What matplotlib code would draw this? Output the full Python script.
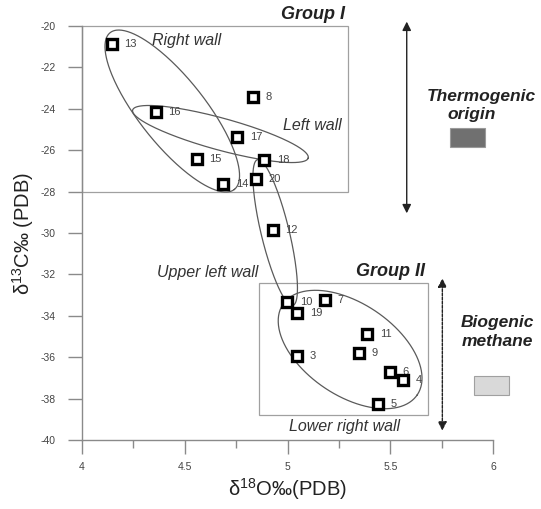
import numpy as np
import matplotlib
matplotlib.use('Agg')
import matplotlib.pyplot as plt
from matplotlib.patches import Rectangle

plt.rcParams['font.family'] = ['Liberation Sans', 'DejaVu Sans']
plt.rcParams['mathtext.default'] = 'regular'
plt.rcParams['axes.unicode_minus'] = False

# sample points
ids = ['13', '16', '8', '17', '15', '18', '14', '20', '12',
       '10', '19', '7', '11', '9', '3', '6', '4', '5']
d18O = [4.146, 4.360, 4.831, 4.756, 4.559, 4.887, 4.688, 4.845, 4.928,
        4.999, 5.048, 5.182, 5.388, 5.349, 5.048, 5.498, 5.560, 5.438]
d13C = [-20.87, -24.17, -23.44, -25.36, -26.43, -26.47, -27.65, -27.41, -29.86,
        -33.32, -33.85, -33.24, -34.88, -35.78, -35.94, -36.70, -37.10, -38.28]

# group boxes (x0, x1, y0, y1)
group1_box = (4.0, 5.294, -28.04, -20.0)
group2_box = (4.862, 5.681, -38.79, -32.40)

# wall ellipses: name, centre (d18O, d13C), semi axes in px, angle in deg
walls = [
    ('Right wall', (4.440, -24.11), 100, 33, -51.6),
    ('Left wall', (4.674, -25.22), 91, 16, -15.3),
    ('Upper left wall', (4.940, -29.98), 75, 14, -76.4),
    ('Lower right wall', (5.304, -35.63), 81, 46, -34.0),
]
wall_text = {
    'Right wall': (4.508, -20.71),
    'Left wall': (5.121, -24.83),
    'Upper left wall': (4.611, -31.90),
    'Lower right wall': (5.275, -39.37),
}

fig = plt.figure(figsize=(5.41, 5.09), dpi=100)
ax = fig.add_axes([0.151, 0.1356, 0.761, 0.8134])
ax.set_xlim(4, 6)
ax.set_ylim(-40, -20)

for s in ['top', 'right']:
    ax.spines[s].set_visible(False)
for s in ['left', 'bottom']:
    ax.spines[s].set_color('#8a8a8a')
    ax.spines[s].set_linewidth(1.0)

ax.set_xticks([4, 4.5, 5, 5.5, 6])
ax.set_xticklabels(['4', '4.5', '5', '5.5', '6'])
ax.set_xticks([4.25, 4.75, 5.25, 5.75], minor=True)
ax.set_yticks(np.arange(-40, -19, 2))
ax.tick_params(axis='both', which='major', direction='out', color='#8a8a8a',
               labelsize=7.5, labelcolor='#444444', width=1.0)
ax.tick_params(axis='y', which='major', length=10, pad=9)
ax.tick_params(axis='x', which='major', length=10, pad=6)
ax.tick_params(axis='x', which='minor', direction='out', length=5.5,
               color='#8a8a8a', width=1.0)

ax.set_xlabel(r'$\delta^{18}$O‰(PDB)', fontsize=14.5, color='#222222', labelpad=3)
ax.set_ylabel(r'$\delta^{13}$C‰ (PDB)', fontsize=14.5, color='#222222', labelpad=3)

# group boxes
for x0, x1, y0, y1 in [group1_box, group2_box]:
    ax.add_patch(Rectangle((x0, y0), x1 - x0, y1 - y0, fill=False,
                           ec='#a0a0a0', lw=0.9, clip_on=False, zorder=1))
ax.annotate('Group I', xy=(group1_box[1], group1_box[3]), xytext=(-2, 2),
            textcoords='offset points', ha='right', va='bottom',
            fontsize=13, fontweight='bold', style='italic', color='#222222',
            annotation_clip=False)
ax.annotate('Group II', xy=(group2_box[1], group2_box[3]), xytext=(-2, 2),
            textcoords='offset points', ha='right', va='bottom',
            fontsize=13, fontweight='bold', style='italic', color='#222222',
            annotation_clip=False)

# ellipses drawn in pixel space, mapped back to data
bb = ax.get_window_extent()
sx = bb.width / 2.0
sy = bb.height / 20.0
t = np.linspace(0, 2 * np.pi, 300)
for name, (cx, cy), a, b, ang in walls:
    th = np.deg2rad(ang)
    u = a * np.cos(t)
    v = b * np.sin(t)
    ex = cx + (u * np.cos(th) - v * np.sin(th)) / sx
    ey = cy + (u * np.sin(th) + v * np.cos(th)) / sy
    ax.plot(ex, ey, color='#5a5a5a', lw=0.9, zorder=2, clip_on=False)
    tx, ty = wall_text[name]
    ax.text(tx, ty, name, fontsize=11.5, style='italic', color='#333333',
            ha='center', va='center', zorder=3)

# points and labels
for lab, x, y in zip(ids, d18O, d13C):
    ax.annotate(lab, xy=(x, y), xytext=(9, 0), textcoords='offset points',
                ha='left', va='center', fontsize=8, color='#444444', zorder=3)
ax.plot(d18O, d13C, 's', ms=7.8, mfc='white', mec='black', mew=2.4,
        ls='none', zorder=5, clip_on=False)

# origin arrows and legend swatches
ax.annotate('', xy=(5.579, -19.79), xytext=(5.579, -29.05),
            arrowprops=dict(arrowstyle='<|-|>', color='#222222', lw=1.0,
                            mutation_scale=13, shrinkA=0, shrinkB=0),
            annotation_clip=False)
ax.annotate('', xy=(5.752, -32.19), xytext=(5.752, -39.55),
            arrowprops=dict(arrowstyle='<|-|>', color='#222222', lw=1.0,
                            ls=(0, (2, 1)), mutation_scale=13,
                            shrinkA=0, shrinkB=0),
            annotation_clip=False)

ax.text(5.940, -23.62, 'Thermogenic', fontsize=12.5, fontweight='bold',
        style='italic', color='#222222', ha='center', va='baseline')
ax.text(5.895, -24.50, 'origin', fontsize=12.5, fontweight='bold',
        style='italic', color='#222222', ha='center', va='baseline')
ax.add_patch(Rectangle((5.790, -25.83), 0.170, 0.92, fc='#707070',
                       ec='#9a9a9a', lw=0.8, clip_on=False))

ax.text(6.020, -34.53, 'Biogenic', fontsize=12.5, fontweight='bold',
        style='italic', color='#222222', ha='center', va='baseline')
ax.text(6.020, -35.46, 'methane', fontsize=12.5, fontweight='bold',
        style='italic', color='#222222', ha='center', va='baseline')
ax.add_patch(Rectangle((5.906, -37.81), 0.170, 0.89, fc='#d9d9d9',
                       ec='#a0a0a0', lw=0.8, clip_on=False))

fig.savefig('out.png', dpi=100)
